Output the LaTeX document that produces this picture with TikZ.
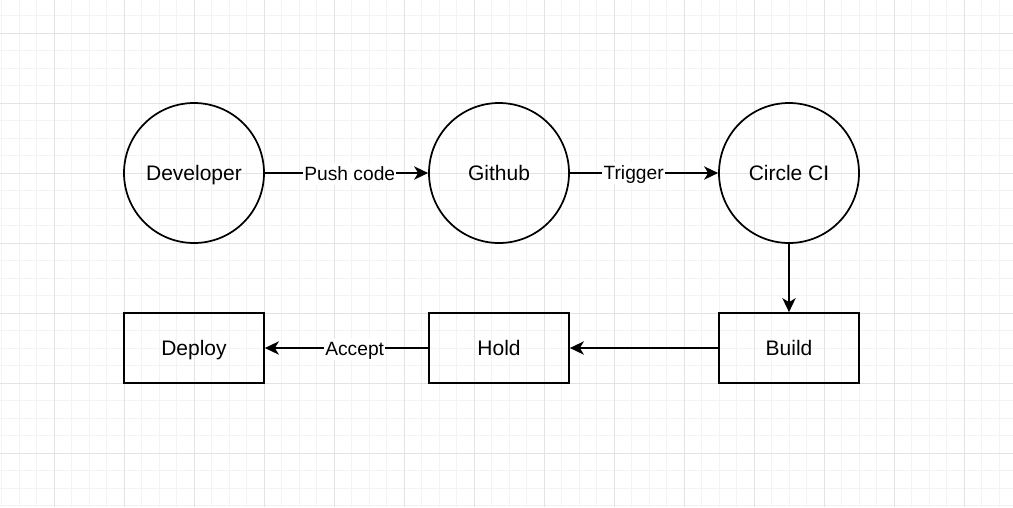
\documentclass[tikz,border=0pt]{standalone}
\usepackage{fontspec}
\setmainfont{Liberation Sans}
\usetikzlibrary{arrows.meta}
\definecolor{gridminor}{HTML}{F3F3F3}
\definecolor{gridmajor}{HTML}{E3E3E3}
\begin{document}
\begin{tikzpicture}[x=0.75pt,y=-0.75pt,
  every node/.style={font=\fontsize{15.75}{18}\selectfont,text height=11.3pt,text depth=0pt},
  circnode/.style={draw,line width=1.3pt,circle,minimum size=140*0.75pt,inner sep=0pt},
  boxnode/.style={draw,line width=1.3pt,rectangle,minimum width=140*0.75pt,minimum height=70*0.75pt,inner sep=0pt},
  conn/.style={line width=1.3pt,-{Stealth[length=10.5pt,width=10pt,inset=3pt]}},
  elabel/.style={fill=white,inner ysep=3pt,inner xsep=1pt,text height=10.4pt,font=\fontsize{14.4}{16}\selectfont}]
\useasboundingbox (0,0) rectangle (1013,507);
% grid
\foreach \i in {0,...,58} {\draw[gridminor,line width=0.75pt] ({1.5+17.5*\i},0) -- ({1.5+17.5*\i},507);}
\foreach \j in {0,...,29} {\draw[gridminor,line width=0.75pt] (0,{-2+17.5*\j}) -- (1013,{-2+17.5*\j});}
\foreach \i in {0,...,14} {\draw[gridmajor,line width=0.75pt] ({54+70*\i},0) -- ({54+70*\i},507);}
\foreach \j in {0,...,7} {\draw[gridmajor,line width=0.75pt] (0,{33+70*\j}) -- (1013,{33+70*\j});}
% nodes
\node[circnode] (dev) at (194,173) {Developer};
\node[circnode] (git) at (499,173) {Github};
\node[circnode] (ci) at (789,173) {Circle CI};
\node[boxnode] (deploy) at (194,348) {Deploy};
\node[boxnode] (hold) at (499,348) {Hold};
\node[boxnode] (build) at (789,348) {Build};
% connectors
\draw[conn] (dev) -- node[elabel,pos=0.52,yshift=-0.75pt] {Push code} (git);
\draw[conn] (git) -- node[elabel,pos=0.43] {Trigger} (ci);
\draw[conn] (ci) -- (build);
\draw[conn] (build) -- (hold);
\draw[conn] (hold) -- node[elabel,pos=0.45,yshift=-0.75pt] {Accept} (deploy);
\end{tikzpicture}
\end{document}
